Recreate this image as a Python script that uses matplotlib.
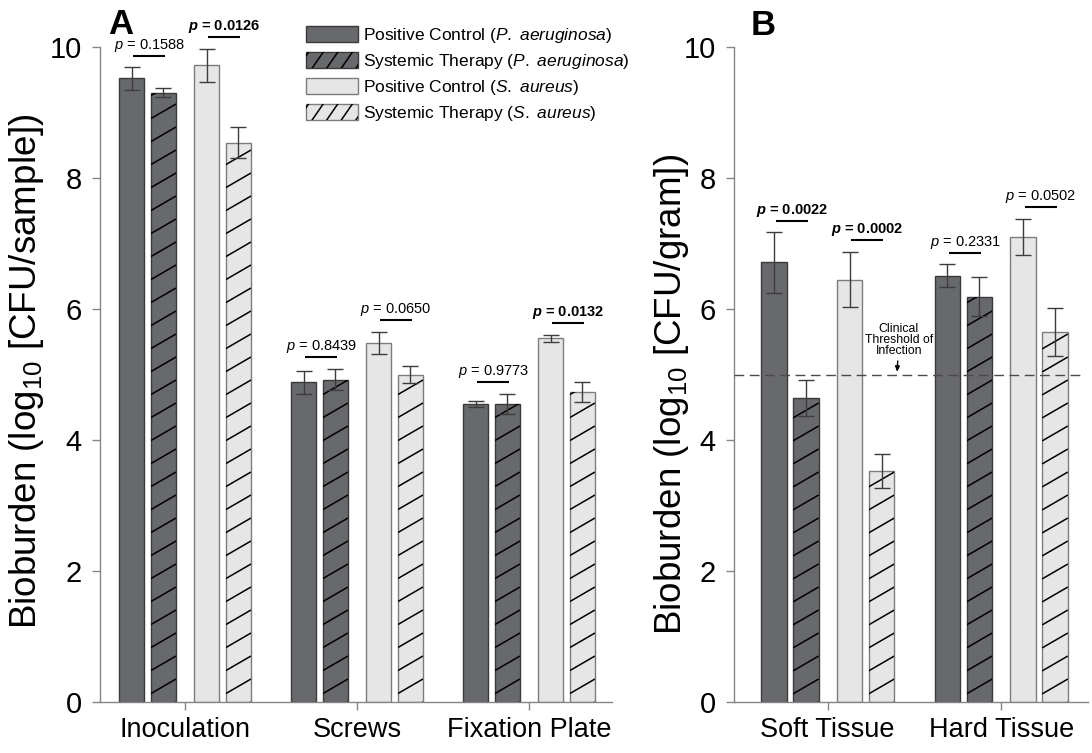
import matplotlib
matplotlib.use("Agg")
import matplotlib.pyplot as plt
import numpy as np
from matplotlib.patches import Rectangle
from matplotlib.lines import Line2D
from matplotlib.legend_handler import HandlerBase

# ---------------- data ----------------
categories_A = ["Inoculation", "Screws", "Fixation Plate"]
pc_pa_A = [9.52, 4.88, 4.55]
pc_pa_A_err = [0.17, 0.18, 0.05]
st_pa_A = [9.30, 4.92, 4.55]
st_pa_A_err = [0.07, 0.16, 0.15]
pc_sa_A = [9.72, 5.48, 5.55]
pc_sa_A_err = [0.25, 0.17, 0.05]
st_sa_A = [8.54, 5.00, 4.73]
st_sa_A_err = [0.24, 0.13, 0.15]

categories_B = ["Soft Tissue", "Hard Tissue"]
pc_pa_B = [6.71, 6.51]
pc_pa_B_err = [0.46, 0.17]
st_pa_B = [4.64, 6.19]
st_pa_B_err = [0.28, 0.30]
pc_sa_B = [6.45, 7.10]
pc_sa_B_err = [0.42, 0.27]
st_sa_B = [3.53, 5.65]
st_sa_B_err = [0.26, 0.37]

p_A_pa = ["0.1588", "0.8439", "0.9773"]
p_A_pa_sig = [False, False, False]
p_A_sa = ["0.0126", "0.0650", "0.0132"]
p_A_sa_sig = [True, False, True]
p_B_pa = ["0.0022", "0.2331"]
p_B_pa_sig = [True, False]
p_B_sa = ["0.0002", "0.0502"]
p_B_sa_sig = [True, False]

threshold = 5.0
yticks = [0, 2, 4, 6, 8, 10]
series_labels = [
    "Positive Control ($\\mathit{P.\\ aeruginosa}$)",
    "Systemic Therapy ($\\mathit{P.\\ aeruginosa}$)",
    "Positive Control ($\\mathit{S.\\ aureus)}$",
    "Systemic Therapy ($\\mathit{S.\\ aureus}$)",
]

# ---------------- style ----------------
plt.rcParams["font.family"] = ["Liberation Sans", "DejaVu Sans"]
plt.rcParams["mathtext.fontset"] = "custom"
plt.rcParams["mathtext.rm"] = "Liberation Sans"
plt.rcParams["mathtext.it"] = "Liberation Sans:italic"
plt.rcParams["mathtext.bf"] = "Liberation Sans:bold"
plt.rcParams["mathtext.bfit"] = "Liberation Sans:italic:bold"

DARK = "#68696c"
DARK_EDGE = "#3a3a3a"
LIGHT = "#e6e6e6"
LIGHT_EDGE = "#7c7c7c"
AXCOL = "#858585"
ERRCOL = "#3c3c3c"

faces = [DARK, DARK, LIGHT, LIGHT]
edges = [DARK_EDGE, DARK_EDGE, LIGHT_EDGE, LIGHT_EDGE]
hatched = [False, True, False, True]
offsets = [-0.31, -0.126, 0.126, 0.31]
width = 0.148

W, H = 1092, 753
fig = plt.figure(figsize=(W / 100, H / 100), dpi=100)
axA = fig.add_axes([100 / W, 51 / H, 512 / W, 655 / H])
axB = fig.add_axes([734 / W, 51 / H, 354 / W, 655 / H])
axA.set_xlim(-0.494, 2.483)
axB.set_xlim(-0.54, 1.50)


def hatch_bar(ax, rect, slope_px=0.58, spacing_px=23.0):
    # slanted hatch lines clipped to a bar
    x0, y0 = ax.transData.transform((rect.get_x(), rect.get_y()))
    x1, y1 = ax.transData.transform((rect.get_x() + rect.get_width(),
                                     rect.get_y() + rect.get_height()))
    inv = ax.transData.inverted()
    wpx = x1 - x0
    c = y0 - slope_px * wpx
    while c < y1:
        p0 = inv.transform((x0, c))
        p1 = inv.transform((x1, c + slope_px * wpx))
        ln = Line2D([p0[0], p1[0]], [p0[1], p1[1]], color="black", lw=1.1,
                    solid_capstyle="butt", zorder=rect.get_zorder() + 0.1)
        ax.add_line(ln)
        ln.set_clip_path(rect)
        c += spacing_px


def draw_panel(ax, cats, vals, errs, pvals, ylabel, letter, letter_xy):
    ax.set_ylim(0, 10)
    x = np.arange(len(cats))
    for i in range(4):
        bars = ax.bar(x + offsets[i], vals[i], width, color=faces[i], edgecolor=edges[i],
                      linewidth=1.0, zorder=2)
        if hatched[i]:
            for r in bars:
                hatch_bar(ax, r)
        ax.errorbar(x + offsets[i], vals[i], yerr=errs[i], fmt="none", ecolor=ERRCOL,
                    elinewidth=1.0, capsize=5.8, capthick=1.0, zorder=4)
    # p-value brackets
    for pair, (labels, sig) in enumerate(pvals):
        a, b = 2 * pair, 2 * pair + 1
        for j in range(len(cats)):
            top = max(vals[a][j] + errs[a][j], vals[b][j] + errs[b][j])
            ly = top + 0.18
            xa = x[j] + offsets[a]
            xb = x[j] + offsets[b]
            ax.plot([xa + 0.01, xb + 0.01], [ly, ly], color="black", lw=1.5,
                    solid_capstyle="butt", clip_on=False, zorder=5)
            if sig[j]:
                s = "$\\mathbfit{p}$ = " + labels[j]
                fw = "bold"
            else:
                s = "$\\mathit{p}$ = " + labels[j]
                fw = "normal"
            ax.text((xa + xb) / 2 + 0.01, ly + 0.16, s, ha="center", va="center",
                    fontsize=10.5, fontweight=fw, clip_on=False, zorder=5)
    ax.set_xticks(x)
    ax.set_xticklabels(cats, fontsize=19.5)
    ax.set_yticks(yticks)
    ax.set_yticklabels([str(t) for t in yticks], fontsize=21)
    for s in ["top", "right"]:
        ax.spines[s].set_visible(False)
    for s in ["left", "bottom"]:
        ax.spines[s].set_color(AXCOL)
        ax.spines[s].set_linewidth(1.0)
    ax.tick_params(axis="both", direction="out", length=6, width=1.0, color=AXCOL)
    ax.tick_params(axis="y", pad=7)
    ax.tick_params(axis="x", pad=5)
    ax.set_ylabel(ylabel, fontsize=26.5)
    fig.text(letter_xy[0] / W, 1 - letter_xy[1] / H, letter, fontsize=25,
             fontweight="bold", ha="left", va="top")


draw_panel(axA, categories_A,
           [pc_pa_A, st_pa_A, pc_sa_A, st_sa_A],
           [pc_pa_A_err, st_pa_A_err, pc_sa_A_err, st_sa_A_err],
           [(p_A_pa, p_A_pa_sig), (p_A_sa, p_A_sa_sig)],
           "Bioburden (log$_{10}$ [CFU/sample])", "A", (108, 8))
axA.yaxis.set_label_coords(-0.106, 0.505)

draw_panel(axB, categories_B,
           [pc_pa_B, st_pa_B, pc_sa_B, st_sa_B],
           [pc_pa_B_err, st_pa_B_err, pc_sa_B_err, st_sa_B_err],
           [(p_B_pa, p_B_pa_sig), (p_B_sa, p_B_sa_sig)],
           "Bioburden (log$_{10}$ [CFU/gram])", "B", (751, 9))
axB.yaxis.set_label_coords(-0.122, 0.47)

# threshold line
axB.axhline(threshold, xmin=0, xmax=0.985, color="#4a4a4a", lw=1.0,
            dashes=(7, 4), zorder=3)
axB.annotate("Clinical\nThreshold of\nInfection", xy=(0.40, threshold + 0.04),
             xytext=(0.41, threshold + 0.27), ha="center", va="bottom",
             fontsize=8.8, linespacing=0.9,
             arrowprops=dict(arrowstyle="-|>,head_length=0.35,head_width=0.15",
                             color="black", lw=1.0, shrinkA=1, shrinkB=0),
             zorder=6)


# legend with custom slanted hatch
class HatchHandler(HandlerBase):
    def __init__(self, face, edge, hat):
        super().__init__()
        self.face, self.edge, self.hat = face, edge, hat

    def create_artists(self, legend, orig_handle, xdescent, ydescent, width, height,
                       fontsize, trans):
        rect = Rectangle((-xdescent, -ydescent), width, height, facecolor=self.face,
                         edgecolor=self.edge, lw=1.0, transform=trans)
        arts = [rect]
        if self.hat:
            slope = 1.45
            step = 10.5
            c = -xdescent - height / slope + 2
            while c < -xdescent + width:
                ln = Line2D([c, c + height / slope], [-ydescent, -ydescent + height],
                            color="black", lw=1.1, transform=trans)
                ln.set_clip_path(rect)
                arts.append(ln)
                c += step
        return arts


handles = [Rectangle((0, 0), 1, 1) for _ in range(4)]
hmap = {h: HatchHandler(faces[i], edges[i], hatched[i]) for i, h in enumerate(handles)}
fig.legend(handles, series_labels, handler_map=hmap, loc="upper left",
           bbox_to_anchor=(306 / W, 1 - 26 / H), bbox_transform=fig.transFigure,
           frameon=False, fontsize=12.5, borderpad=0, borderaxespad=0,
           handlelength=3.0, handleheight=1.08, handletextpad=0.3, labelspacing=0.39)

fig.savefig("out.png", dpi=100)
